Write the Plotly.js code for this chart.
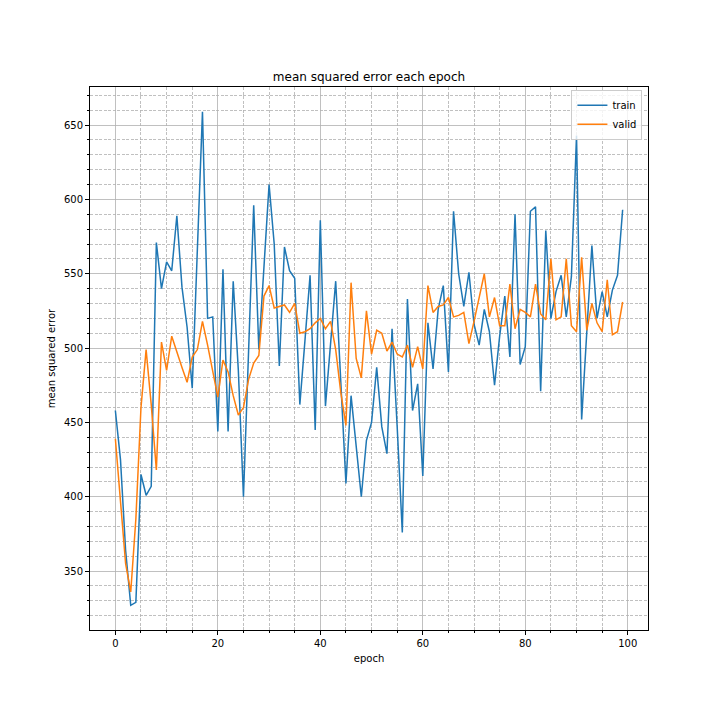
<!DOCTYPE html>
<html>
<head>
<meta charset="utf-8">
<script src="https://cdn.plot.ly/plotly-3.0.1.min.js"></script>
<style>
  body { margin: 0; background: #fff; }
  #chart { width: 720px; height: 720px; }
</style>
</head>
<body>
<div id="chart"></div>
<script>
//data
var trainLoss = [
  458, 425, 364, 327, 329, 415, 401, 407, 571, 540,
  558, 552, 589, 541, 514, 473, 566, 659, 520, 521,
  444, 553, 444, 545, 485, 400, 498, 596, 499, 554,
  610, 570, 488, 568, 552, 547, 462, 505, 549, 445,
  586, 461, 503, 545, 477, 409, 468, 434, 400, 438,
  450, 487, 447, 429, 513, 447, 376, 533, 458, 476,
  414, 517, 486, 526, 542, 484, 592, 550, 528, 551,
  516, 502, 526, 511, 475, 508, 535, 494, 590, 489,
  501, 592, 595, 471, 579, 520, 538, 549, 521, 548,
  643, 452, 511, 569, 520, 538, 521, 539, 549, 593
];
var validLoss = [
  439, 398, 355, 336, 385, 460, 499, 462, 418, 504,
  485, 508, 497, 487, 477, 494, 499, 518, 502, 484,
  467, 492, 484, 468, 455, 460, 479, 490, 495, 535,
  542, 527, 528, 529, 524, 530, 510, 511, 513, 517,
  520, 513, 518, 499, 470, 448, 544, 493, 480, 525,
  496, 512, 510, 498, 504, 496, 494, 502, 487, 501,
  486, 542, 524, 528, 529, 534, 521, 522, 524, 503,
  518, 535, 550, 521, 534, 515, 515, 543, 513, 526,
  524, 521, 543, 523, 519, 560, 519, 521, 560, 515,
  511, 561, 512, 530, 517, 511, 546, 509, 511, 531
];
var seriesNames = ["train", "valid"];
var seriesColors = ["#1f77b4", "#ff7f0e"];

//epoch index for each point
var epochs = [];
for (var i = 0; i < trainLoss.length; i++) {
  epochs.push(i);
}

var font = "DejaVu Sans, sans-serif";
var data = [trainLoss, validLoss].map(function (ys, k) {
  return {
    x: epochs,
    y: ys,
    name: seriesNames[k],
    mode: "lines",
    type: "scatter",
    line: { color: seriesColors[k], width: 1.5 },
  };
});

//minor grid: short dashes like matplotlib "--"
function minorGrid(step) {
  return {
    dtick: step,
    tick0: 0,
    ticks: "outside",
    ticklen: 2,
    tickcolor: "#000",
    showgrid: true,
    gridcolor: "#b0b0b0",
    griddash: "3px,1.5px",
    gridwidth: 0.8,
  };
}

//matplotlib-like axis with major solid grid
function axis(extra) {
  var a = {
    showline: true,
    mirror: true,
    linecolor: "#000",
    linewidth: 1,
    ticks: "outside",
    ticklen: 4,
    tickwidth: 1,
    tickcolor: "#000",
    showgrid: true,
    gridcolor: "#b0b0b0",
    gridwidth: 0.8,
    zeroline: false,
    tickfont: { family: font, size: 10, color: "#000" },
  };
  for (var key in extra) a[key] = extra[key];
  return a;
}

var layout = {
  width: 720,
  height: 720,
  paper_bgcolor: "#fff",
  plot_bgcolor: "#fff",
  margin: { l: 90, r: 72, t: 87, b: 90 },
  font: { family: font, size: 10, color: "#000" },
  title: {
    text: "mean squared error each epoch",
    font: { family: font, size: 12, color: "#000" },
    x: 0.5,
    xref: "paper",
    y: 0.894,
    yanchor: "middle",
  },
  xaxis: axis({
    range: [-4.95, 103.95],
    tick0: 0,
    dtick: 20,
    title: { text: "epoch", font: { family: font, size: 10 }, standoff: 6 },
    minor: minorGrid(5),
  }),
  yaxis: axis({
    range: [310.4, 675.6],
    tick0: 0,
    dtick: 50,
    title: { text: "mean squared error", font: { family: font, size: 10 }, standoff: 6 },
    minor: minorGrid(10),
  }),
  showlegend: true,
  legend: {
    x: 0.99,
    y: 0.995,
    xanchor: "right",
    yanchor: "top",
    bgcolor: "rgba(255,255,255,0.8)",
    bordercolor: "#cccccc",
    borderwidth: 1,
    itemwidth: 30,
    font: { family: font, size: 10, color: "#000" },
    tracegroupgap: 0,
  },
};

Plotly.newPlot("chart", data, layout, { staticPlot: true });
</script>
</body>
</html>
